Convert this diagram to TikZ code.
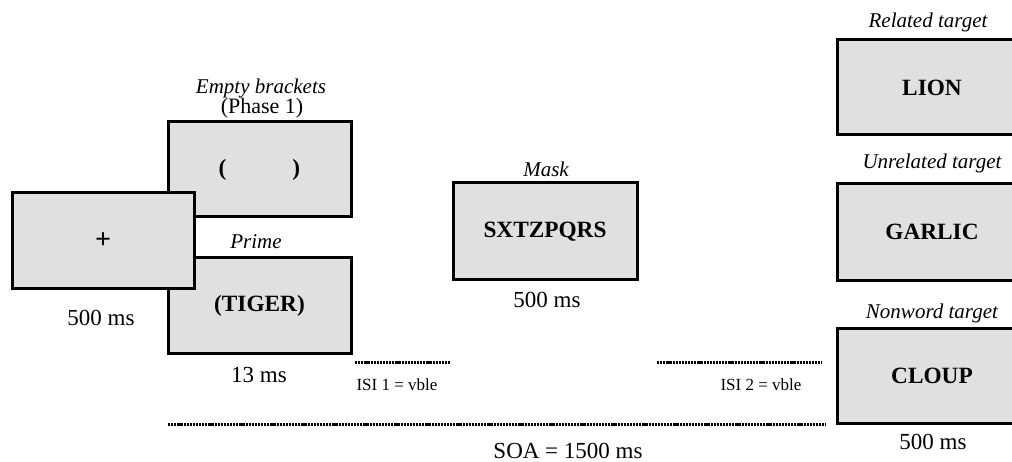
\documentclass[tikz,border=0pt]{standalone}
\usepackage{fontspec}
\setmainfont{Liberation Serif}
\begin{document}
\begin{tikzpicture}[x=1pt,y=-1pt,
  screen/.style={draw=black, line width=3pt, fill=gray!24, rectangle, inner sep=0pt, font=\fontsize{23.3}{25}\selectfont\bfseries},
  lbl/.style={font=\fontsize{21}{23}\selectfont\itshape, inner sep=0pt},
  dur/.style={font=\fontsize{23}{25}\selectfont, inner sep=0pt},
  isi/.style={font=\fontsize{17}{19}\selectfont, inner sep=0pt},
  dots/.style={line width=3pt, dash pattern=on 2.2pt off 0.9pt}]
\useasboundingbox (0,0) rectangle (1012,462);
% prime phase boxes
\node[screen, minimum width=183pt, minimum height=95pt] (brk) at (259.5,169.5) {(\hspace{66pt})};
\node[screen, minimum width=183pt, minimum height=95pt] (prime) at (259.5,305.5) {(TIGER)};
% fixation
\node[screen, minimum width=182pt, minimum height=96pt, font=\fontsize{28}{30}\selectfont\bfseries] (fix) at (103,241) {+};
% mask
\node[screen, minimum width=184pt, minimum height=97pt] (mask) at (545,231.5) {SXTZPQRS};
% targets
\node[screen, minimum width=190pt, minimum height=95pt] (lion) at (932,87.5) {LION};
\node[screen, minimum width=190pt, minimum height=97pt] (garlic) at (932,232) {GARLIC};
\node[screen, minimum width=190pt, minimum height=94pt] (cloup) at (932,376) {CLOUP};
% labels
\node[lbl] (lbrk) at (261,88) {Empty brackets};
\node[dur, font=\fontsize{22}{24}\selectfont] (lphase) at (262,108) {(Phase 1)};
\node[lbl] (lprime) at (256,242) {Prime};
\node[lbl] (lmask) at (546,169) {Mask};
\node[lbl] (lrel) at (928,22) {Related target};
\node[lbl] (lunrel) at (932,163) {Unrelated target};
\node[lbl] (lnon) at (932,313) {Nonword target};
% durations
\node[dur] (dfix) at (101,318) {500 ms};
\node[dur] (dprime) at (259,375) {13 ms};
\node[dur] (dmask) at (547,300) {500 ms};
\node[dur] (dtarget) at (933,442) {500 ms};
% ISI and SOA lines
\coordinate (i1a) at (355,362);
\coordinate (i1b) at (450,362);
\coordinate (i2a) at (657,362);
\coordinate (i2b) at (822,362);
\coordinate (soaa) at (168,424);
\coordinate (soab) at (826,424);
\draw[dots] (i1a) -- (i1b);
\draw[dots] (i2a) -- (i2b);
\draw[dots] (soaa) -- (soab);
\node[isi] (isi1) at (397,385) {ISI 1 = vble};
\node[isi] (isi2) at (761,385) {ISI 2 = vble};
\node[dur] (soa) at (568,451) {SOA = 1500 ms};
\end{tikzpicture}
\end{document}
